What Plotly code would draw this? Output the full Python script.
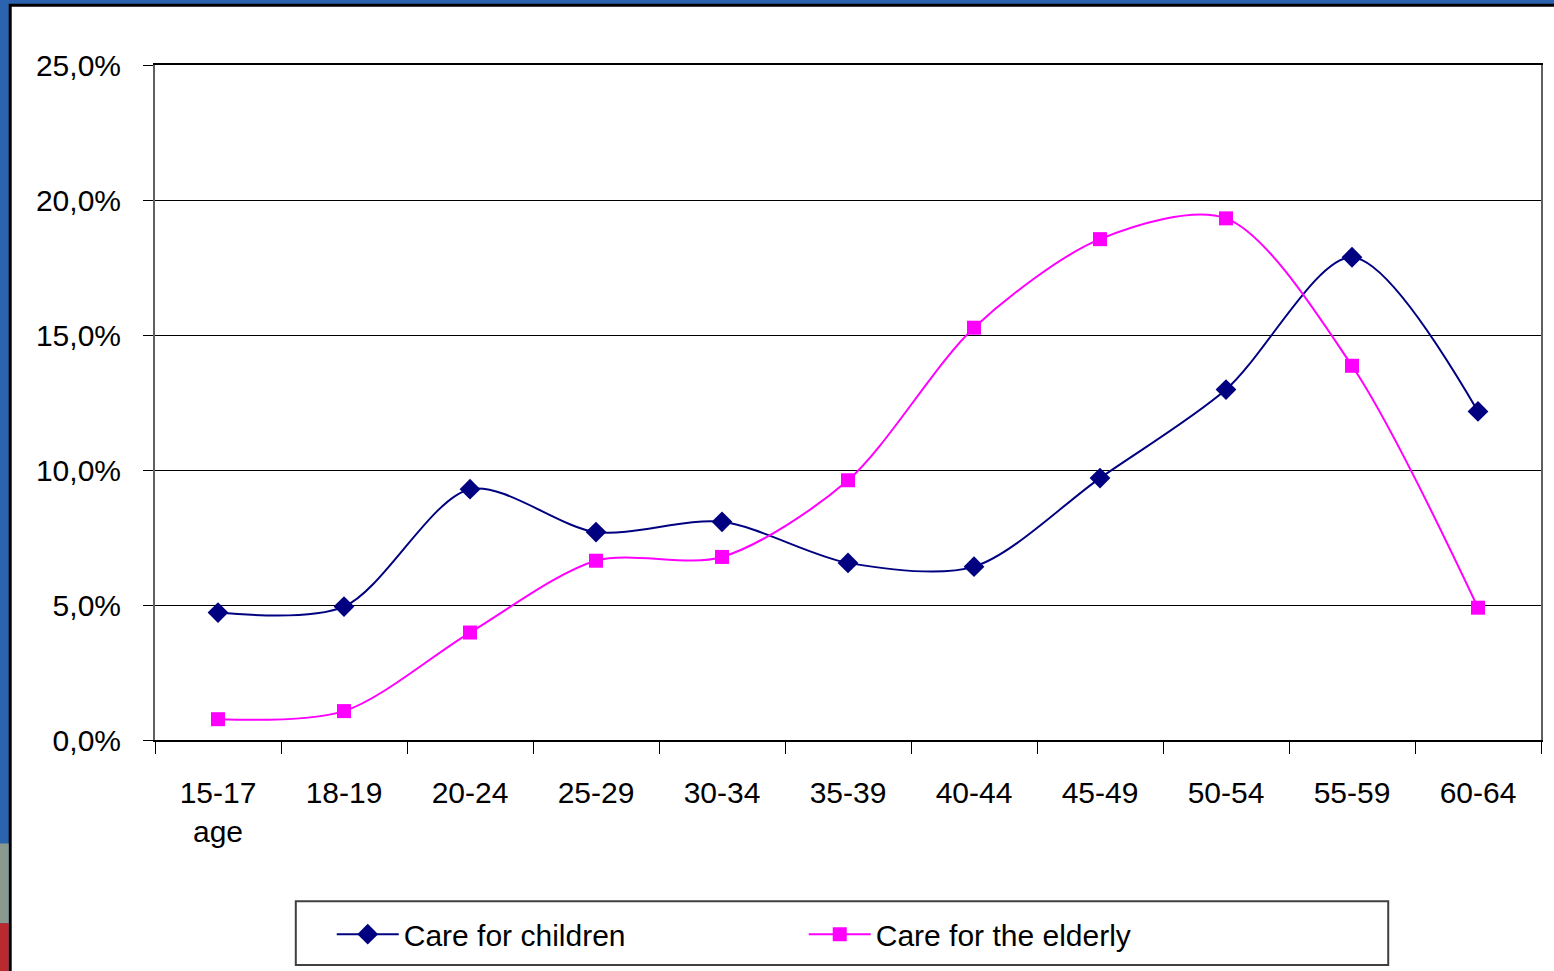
import plotly.graph_objects as go

age_groups = ["15-17<br>age", "18-19", "20-24", "25-29", "30-34", "35-39",
              "40-44", "45-49", "50-54", "55-59", "60-64"]
care_children = [4.72, 4.94, 9.29, 7.70, 8.08, 6.56, 6.42, 9.70, 12.98, 17.88, 12.17]
care_elderly = [0.77, 1.07, 3.98, 6.64, 6.78, 9.62, 15.27, 18.55, 19.32, 13.86, 4.90]
y_ticks = [0, 5, 10, 15, 20, 25]
y_tick_labels = ["0,0%", "5,0%", "10,0%", "15,0%", "20,0%", "25,0%"]

W, H = 1554, 971
L, R, T, B = 155, 11, 65, 228
PW, PH = W - L - R, H - T - B


def px_x(px):
    return (px - L) / PW


def px_y(py):
    return (H - B - py) / PH


FONT = "Liberation Sans, Arial, sans-serif"
FS = 30

fig = go.Figure()
fig.add_trace(go.Scatter(
    x=age_groups, y=care_children, name="Care for children",
    mode="lines+markers", line=dict(color="#000080", width=2, shape="spline", smoothing=0.85),
    marker=dict(symbol="diamond", size=16, color="#000080"),
))
fig.add_trace(go.Scatter(
    x=age_groups, y=care_elderly, name="Care for the elderly",
    mode="lines+markers", line=dict(color="#FF00FF", width=2, shape="spline", smoothing=0.85),
    marker=dict(symbol="square", size=14, color="#FF00FF"),
))

shapes = [
    dict(type="rect", xref="paper", yref="paper", layer="below",
         x0=px_x(10), x1=px_x(1570), y0=px_y(990), y1=px_y(5),
         fillcolor="white", line=dict(color="black", width=3)),
    dict(type="rect", xref="paper", yref="paper", layer="below",
         x0=px_x(-5), x1=px_x(8.5), y0=px_y(927), y1=px_y(847),
         fillcolor="#8a9a8e", line=dict(width=0)),
    dict(type="rect", xref="paper", yref="paper", layer="below",
         x0=px_x(-5), x1=px_x(8.5), y0=px_y(980), y1=px_y(927),
         fillcolor="#b82a2e", line=dict(width=0)),
    dict(type="rect", xref="paper", yref="paper", layer="above",
         x0=px_x(296), x1=px_x(1390), y0=px_y(969), y1=px_y(905),
         fillcolor="rgba(0,0,0,0)", line=dict(color="#404040", width=2)),
]

fig.update_layout(
    width=W, height=H,
    margin=dict(l=L, r=R, t=T, b=B, pad=0),
    paper_bgcolor="#2b63ae",
    plot_bgcolor="rgba(0,0,0,0)",
    font=dict(family=FONT, size=FS, color="black"),
    shapes=shapes,
    showlegend=True,
    legend=dict(
        orientation="h", x=px_x(332), y=px_y(938), xanchor="left", yanchor="middle",
        bgcolor="rgba(0,0,0,0)", borderwidth=0,
        font=dict(family=FONT, size=FS, color="black"),
        itemwidth=62, entrywidth=395, entrywidthmode="pixels",
    ),
    xaxis=dict(
        type="category", range=[-0.5, 10.5], tickson="boundaries",
        ticks="outside", ticklen=12, tickwidth=1, tickcolor="black",
        showline=True, linecolor="black", linewidth=2, mirror=True,
        showgrid=False, tickfont=dict(family=FONT, size=FS, color="black"),
        ticklabelstandoff=25, fixedrange=True,
    ),
    yaxis=dict(
        range=[0, 25], tickvals=y_ticks, ticktext=y_tick_labels,
        ticks="outside", ticklen=10, tickwidth=1, tickcolor="black",
        showline=True, linecolor="#606060", linewidth=2, mirror=True,
        showgrid=True, gridcolor="black", gridwidth=1, zeroline=False,
        tickfont=dict(family=FONT, size=FS, color="black"),
        ticklabelstandoff=16, fixedrange=True,
    ),
)

fig.write_html("out.html")
